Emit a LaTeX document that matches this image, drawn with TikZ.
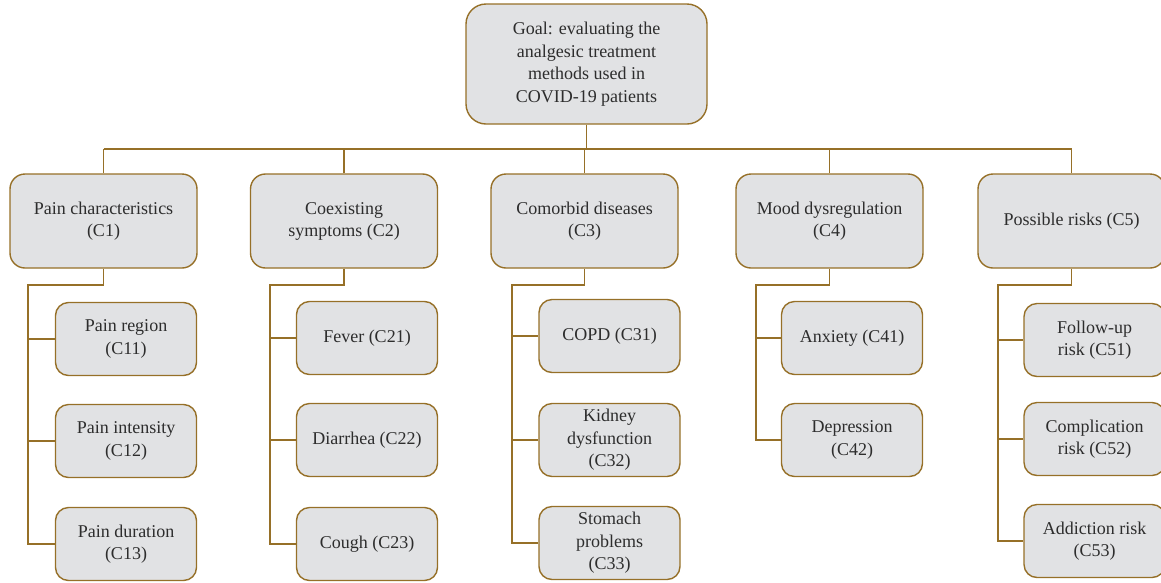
\documentclass[tikz,border=0pt]{standalone}
\usepackage{fontspec}
\setmainfont{Liberation Serif}
\begin{document}
\begin{tikzpicture}[x=1pt,y=-1pt,
  line/.style={draw=linec, line width=1.5pt},
  goalbox/.style={draw=linec, line width=1.4pt, fill=boxfill, rounded corners=20pt, minimum width=241pt, minimum height=120pt, align=center, text=textc, font=\fontsize{18}{22.5}\selectfont, inner sep=0pt},
  topbox/.style={draw=linec, line width=1.4pt, fill=boxfill, rounded corners=15pt, minimum width=187pt, minimum height=94pt, align=center, text=textc, font=\fontsize{18}{22}\selectfont, inner sep=0pt},
  subbox/.style={draw=linec, line width=1.4pt, fill=boxfill, rounded corners=13pt, minimum width=141pt, minimum height=73pt, align=center, text=textc, font=\fontsize{18}{22.5}\selectfont, inner sep=0pt}
]
\definecolor{linec}{RGB}{150,112,40}
\definecolor{boxfill}{RGB}{225,226,228}
\definecolor{textc}{RGB}{45,45,45}
\useasboundingbox (0,0) rectangle (1161,582);

% goal
\node[goalbox] (goal) at (586.5,64) {Goal: evaluating the\\analgesic treatment\\methods used in\\COVID-19 patients};

% level 1
\node[topbox] (c1) at (103.5,221) {Pain characteristics\\(C1)};
\node[topbox] (c2) at (344,221) {Coexisting\\symptoms (C2)};
\node[topbox] (c3) at (584.5,221) {Comorbid diseases\\(C3)};
\node[topbox] (c4) at (829.5,221) {Mood dysregulation\\(C4)};
\node[topbox] (c5) at (1071.5,221) {Possible risks (C5)};

% level 2
\node[subbox] (c11) at (126,339) {Pain region\\(C11)};
\node[subbox] (c12) at (126,441) {Pain intensity\\(C12)};
\node[subbox] (c13) at (126,544) {Pain duration\\(C13)};

\node[subbox] (c21) at (367,338) {Fever (C21)};
\node[subbox] (c22) at (367,440) {Diarrhea (C22)};
\node[subbox] (c23) at (367,544) {Cough (C23)};

\node[subbox] (c31) at (609.5,336) {COPD (C31)};
\node[subbox] (c32) at (609.5,440) {Kidney\\dysfunction\\(C32)};
\node[subbox] (c33) at (609.5,543) {Stomach\\problems\\(C33)};

\node[subbox] (c41) at (852,338) {Anxiety (C41)};
\node[subbox] (c42) at (852,440) {Depression\\(C42)};

\node[subbox] (c51) at (1094.5,340) {Follow-up\\risk (C51)};
\node[subbox] (c52) at (1094.5,439) {Complication\\risk (C52)};
\node[subbox] (c53) at (1094.5,541) {Addiction risk\\(C53)};

% bus
\coordinate (bus) at (586.5,149);
\draw[line] (goal.south) -- (bus);
\draw[line] (c1.north |- bus) -- (c5.north |- bus);
\foreach \i in {1,...,5} {\draw[line] (c\i.north) -- (c\i.north |- bus);}

% trunks
\coordinate (t1) at (28,285);
\coordinate (t2) at (270,285);
\coordinate (t3) at (512,285);
\coordinate (t4) at (756,285);
\coordinate (t5) at (998,285);

\draw[line] (c1.south) -- (c1.south |- t1) -- (t1) -- (t1 |- c13.west) -- (c13.west);
\draw[line] (t1 |- c11.west) -- (c11.west);
\draw[line] (t1 |- c12.west) -- (c12.west);

\draw[line] (c2.south) -- (c2.south |- t2) -- (t2) -- (t2 |- c23.west) -- (c23.west);
\draw[line] (t2 |- c21.west) -- (c21.west);
\draw[line] (t2 |- c22.west) -- (c22.west);

\draw[line] (c3.south) -- (c3.south |- t3) -- (t3) -- (t3 |- c33.west) -- (c33.west);
\draw[line] (t3 |- c31.west) -- (c31.west);
\draw[line] (t3 |- c32.west) -- (c32.west);

\draw[line] (c4.south) -- (c4.south |- t4) -- (t4) -- (t4 |- c42.west) -- (c42.west);
\draw[line] (t4 |- c41.west) -- (c41.west);

\draw[line] (c5.south) -- (c5.south |- t5) -- (t5) -- (t5 |- c53.west) -- (c53.west);
\draw[line] (t5 |- c51.west) -- (c51.west);
\draw[line] (t5 |- c52.west) -- (c52.west);
\end{tikzpicture}
\end{document}
